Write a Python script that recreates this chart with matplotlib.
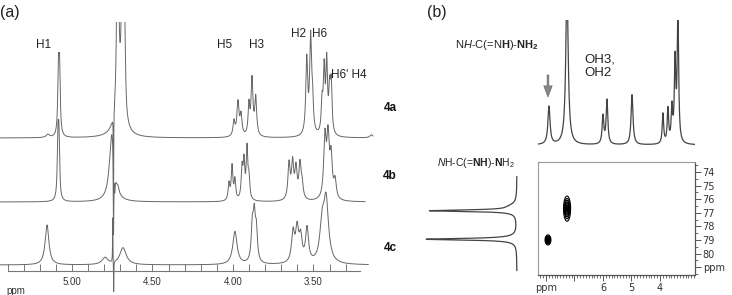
import numpy as np
import matplotlib
matplotlib.use("Agg")
import matplotlib.pyplot as plt
from matplotlib.ticker import FixedLocator

plt.rcParams['font.family'] = ['Liberation Sans', 'DejaVu Sans']
plt.rcParams['mathtext.fontset'] = 'custom'
plt.rcParams['mathtext.rm'] = 'Liberation Sans'
plt.rcParams['mathtext.it'] = 'Liberation Sans:italic'
plt.rcParams['mathtext.bf'] = 'Liberation Sans:bold'

# ---- data: peaks as (ppm, height, half width) ----
peaks_4a = [(5.150, 3, 0.012), (5.084, 62, 0.005), (5.077, 62, 0.005),
            (4.716, 250, 0.006), (4.686, 250, 0.006), (4.672, 70, 0.005),
            (4.705, 25, 0.030),
            (4.742, -96, 0.0012),
            (3.994, 15, 0.007), (3.969, 34, 0.008), (3.950, 20, 0.007),
            (3.901, 30, 0.006), (3.882, 56, 0.007), (3.859, 38, 0.007),
            (3.542, 75, 0.007), (3.518, 95, 0.007), (3.506, 30, 0.006),
            (3.447, 30, 0.006), (3.434, 62, 0.006), (3.418, 70, 0.006),
            (3.400, 40, 0.006), (3.390, 48, 0.006), (3.140, 3, 0.012)]
peaks_4b = [(5.087, 56, 0.005), (5.081, 56, 0.005),
            (4.752, 70, 0.018), (4.742, -81, 0.0015), (4.735, -25, 0.004),
            (4.714, 5, 0.008),
            (4.025, 17, 0.006), (4.006, 34, 0.006), (3.988, 20, 0.006),
            (3.944, 30, 0.006), (3.932, 36, 0.006), (3.913, 50, 0.006),
            (3.901, 20, 0.006),
            (3.652, 36, 0.008), (3.630, 36, 0.008), (3.609, 30, 0.008),
            (3.584, 34, 0.008), (3.571, 14, 0.008),
            (3.429, 60, 0.009), (3.410, 58, 0.009), (3.391, 40, 0.009),
            (3.366, 18, 0.009)]
peaks_4c = [(5.155, 40, 0.014), (4.795, 7, 0.022), (4.683, 17, 0.024),
            (4.747, 45, 0.0012), (4.741, -32, 0.0012),
            (3.988, 33, 0.016),
            (3.880, 34, 0.008), (3.868, 42, 0.008), (3.855, 30, 0.008),
            (3.627, 30, 0.011), (3.602, 32, 0.011), (3.580, 24, 0.011),
            (3.540, 34, 0.011),
            (3.447, 34, 0.016), (3.422, 62, 0.018)]
ppm_ticks_a = [5.0, 4.5, 4.0, 3.5]
ppm_labels_a = ['5.00', '4.50', '4.00', '3.50']
atom_labels = ['H1', 'H5', 'H3', 'H2', 'H6', "H6' H4"]
sample_labels = ['4a', '4b', '4c']

peaks_1h = [(7.895, 38, 0.045), (7.263, 160, 0.05),
            (6.00, 28, 0.035), (5.86, 44, 0.035), (4.98, 50, 0.04),
            (3.895, 30, 0.03), (3.72, 34, 0.03), (3.58, 34, 0.03),
            (3.47, 80, 0.03), (3.37, 130, 0.03)]
peaks_15n = [(76.85, 85, 0.07), (76.55, 6, 0.25), (78.95, 85, 0.07),
             (78.90, 6, 0.20)]
# cross peaks: (1H ppm, 15N ppm, sigma 1H, sigma 15N)
cross_peaks = [(7.93, 79.0, 0.05, 0.18), (7.26, 76.7, 0.06, 0.45)]
n_ticks = [74, 75, 76, 77, 78, 79, 80, 81]
n_labels = ['74', '75', '76', '77', '78', '79', '80', 'ppm']
h_ticks = [8, 7, 6, 5, 4]
h_labels = ['ppm', '', '6', '5', '4']

W, H = 732, 295


def rect(x0, y0, x1, y1):
    return [x0 / W, 1 - y1 / H, (x1 - x0) / W, (y1 - y0) / H]


def lorentz_sum(x, peaks):
    y = np.zeros_like(x)
    for pos, h, w in peaks:
        y += h * w ** 2 / ((x - pos) ** 2 + w ** 2)
    return y


def ftext(x, y, s, **kw):
    fig.text(x / W, 1 - y / H, s, **kw)


fig = plt.figure(figsize=(W / 100, H / 100), dpi=100)

# ---------------- panel (a) ----------------
ax = fig.add_axes(rect(0, 22, 375, 295))
x = np.linspace(5.447, 3.118, 8000)
for peaks, base, end in [(peaks_4a, 133, 3.13), (peaks_4b, 69, 3.18),
                         (peaks_4c, 6, 3.16)]:
    m = x >= end
    ax.plot(x[m], base + lorentz_sum(x[m], peaks), color='#666', lw=0.7)
ax.set_xlim(5.447, 3.118)
ax.set_ylim(-24, 249)
for s in ['left', 'right', 'top']:
    ax.spines[s].set_visible(False)
ax.spines['bottom'].set_position(('data', 0))
ax.spines['bottom'].set_bounds(3.21, 5.40)
ax.spines['bottom'].set_color('#777')
ax.spines['bottom'].set_linewidth(0.8)
ax.set_yticks([])
ax.set_xticks(ppm_ticks_a)
ax.set_xticklabels(ppm_labels_a, fontsize=7, color='#333')
ax.xaxis.set_minor_locator(FixedLocator(np.arange(3.3, 5.41, 0.1)))
ax.tick_params(axis='x', which='both', direction='in', length=5,
               color='#777', width=0.7, pad=4)
ax.patch.set_alpha(0)

ftext(0, 13, '(a)', fontsize=11.5, ha='left', va='center', color='#222')
for lab, (px, py) in zip(atom_labels, [(44, 45), (225, 45), (256, 45),
                                       (299, 34), (320, 34), (349, 75)]):
    ftext(px, py, lab, fontsize=8.5, ha='center', va='center', color='#222')
for lab, py in zip(sample_labels, [108, 176, 248]):
    ftext(390, py, lab, fontsize=8.5, ha='center', va='center',
          fontweight='bold', color='#111')
ftext(16, 291, 'ppm', fontsize=7, ha='center', va='center', color='#333')

# ---------------- panel (b) ----------------
ftext(437, 13, '(b)', fontsize=11.5, ha='center', va='center', color='#222')

# top 1H trace
ax1 = fig.add_axes(rect(538, 20, 695, 147))
xh = np.linspace(8.32, 2.77, 4000)
ax1.plot(xh, lorentz_sum(xh, peaks_1h), color='#444', lw=0.9)
ax1.set_xlim(8.28, 2.77)
ax1.set_ylim(-2, 125)
ax1.axis('off')
ax1.annotate('', xy=(7.93, 48), xytext=(7.93, 70),
             arrowprops=dict(facecolor='#888', edgecolor='#666', width=1.2,
                             headwidth=6, headlength=8, lw=0.5),
             annotation_clip=False)
ftext(497, 45, r'N$\mathit{H}$-C(=N$\mathbf{H}$)-$\mathbf{NH}_\mathbf{2}$',
      fontsize=8, ha='center', va='center', color='#222')
ftext(584, 60, 'OH3,', fontsize=9.5, ha='left', va='center', color='#222')
ftext(584, 73, 'OH2', fontsize=9.5, ha='left', va='center', color='#222')

# 15N projection
ax2 = fig.add_axes(rect(383, 162, 520, 275))
yn = np.linspace(74.35, 81.25, 4000)
ax2.plot(lorentz_sum(yn, peaks_15n), yn, color='#444', lw=0.9)
ax2.set_xlim(134, -3)
ax2.set_ylim(81.58, 73.27)
ax2.axis('off')
ftext(476, 163, r'$\mathit{N}$H-C(=$\mathbf{NH}$)-$\mathbf{N}$H$_2$',
      fontsize=7.5, ha='center', va='center', color='#222')

# 2D map
ax3 = fig.add_axes(rect(538, 162, 695, 275))
gx, gy = np.meshgrid(np.linspace(8.28, 2.77, 400), np.linspace(73.27, 81.58, 400))
z = np.zeros_like(gx)
for cx, cy, sx, sy in cross_peaks:
    z += np.exp(-((gx - cx) ** 2 / (2 * sx ** 2) + (gy - cy) ** 2 / (2 * sy ** 2)))
ax3.contour(gx, gy, z, levels=[0.12, 0.25, 0.4, 0.55, 0.7, 0.85, 0.95],
            colors='black', linewidths=0.8)
ax3.set_xlim(8.28, 2.77)
ax3.set_ylim(81.58, 73.27)
for s in ['left', 'top']:
    ax3.spines[s].set_color('#999')
    ax3.spines[s].set_linewidth(0.8)
for s in ['right', 'bottom']:
    ax3.spines[s].set_color('#555')
    ax3.spines[s].set_linewidth(0.9)
ax3.yaxis.tick_right()
ax3.set_yticks(n_ticks)
ax3.set_yticklabels(n_labels, fontsize=7, family='DejaVu Sans', color='#333')
ax3.yaxis.set_minor_locator(FixedLocator(np.arange(73.5, 81.6, 1.0)))
ax3.set_xticks(h_ticks)
ax3.set_xticklabels(h_labels, fontsize=7, family='DejaVu Sans', color='#333')
ax3.xaxis.set_minor_locator(FixedLocator(np.arange(2.8, 8.28, 0.1)))
ax3.tick_params(axis='both', which='major', direction='out', length=4,
                width=0.7, color='#555', pad=1.5)
ax3.tick_params(axis='both', which='minor', direction='out', length=2.5,
                width=0.6, color='#555')

fig.savefig('out.png', dpi=100)
